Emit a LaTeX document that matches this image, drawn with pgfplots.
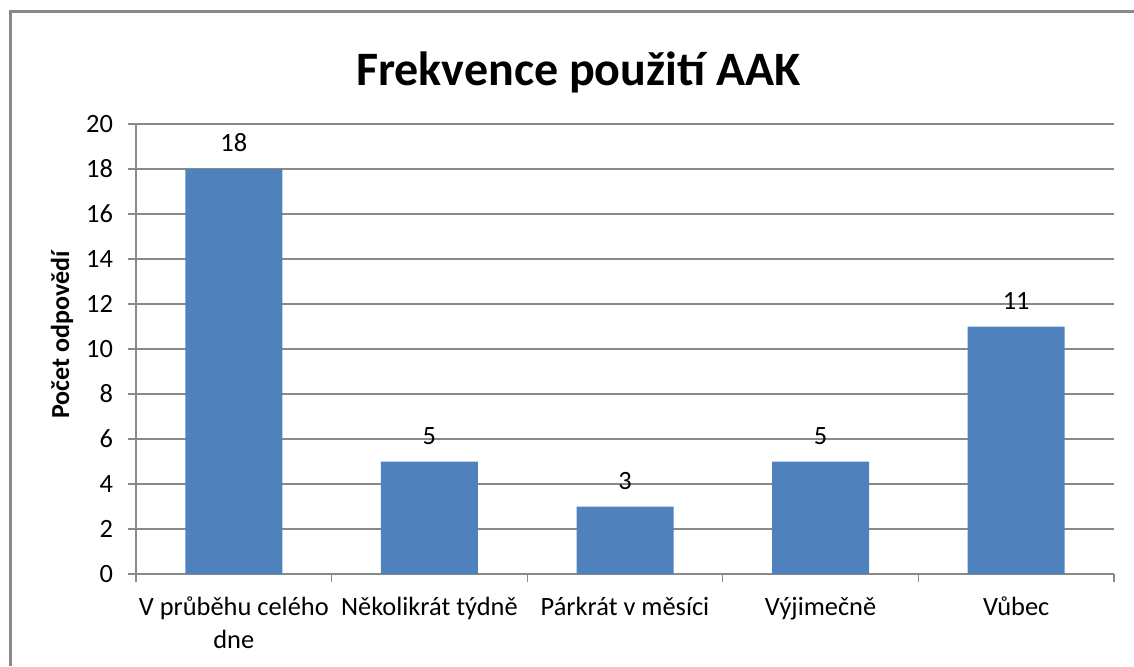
\documentclass[border=0pt]{standalone}
\usepackage{fontspec}
\setmainfont{Carlito}
\usepackage{pgfplots}
\pgfplotsset{compat=1.18}
\definecolor{barblue}{HTML}{4F81BD}
\definecolor{gridgray}{HTML}{898989}
\begin{document}
\begin{tikzpicture}[x=1pt,y=1pt]
\useasboundingbox (0,0) rectangle (567,333);
\draw[gridgray, line width=1.2pt] (5.25,0) -- (5.25,327.25) -- (567,327.25);
\begin{axis}[
  at={(68pt,46pt)}, anchor=south west,
  scale only axis, width=489pt, height=225pt,
  xmin=-0.5, xmax=4.5, ymin=0, ymax=20,
  ybar, bar width=48.5pt,
  axis x line*=bottom, axis y line*=left,
  axis line style={gridgray, line width=0.6pt, -},
  ytick={0,2,...,20},
  ymajorgrids, major grid style={gridgray, line width=0.6pt},
  xtick={-0.5,0.5,1.5,2.5,3.5,4.5},
  xticklabels={{V průběhu celého\\dne},{Několikrát týdně},{Párkrát v měsíci},{Výjimečně},{Vůbec},{}},
  xticklabel style={xshift=48.9pt, yshift=-4pt, align=center},
  yticklabel style={xshift=-4pt},
  tick align=outside, major tick length=4pt,
  tick style={gridgray, line width=0.6pt},
  ticklabel style={font=\fontsize{13.2}{16.5}\selectfont},
  /pgf/number format/assume math mode=true,
  nodes near coords,
  every node near coord/.append style={font=\fontsize{13.2}{15}\selectfont, black, yshift=5pt},
]
\addplot[fill=barblue, draw=none] coordinates {(0,18) (1,5) (2,3) (3,5) (4,11)};
\end{axis}
\node[font=\bfseries\fontsize{24}{28}\selectfont, anchor=base] at (289.25,290.5) {Frekvence použití AAK};
\node[font=\bfseries\fontsize{13}{15}\selectfont, rotate=90] at (31,165.5) {Počet odpovědí};
\end{tikzpicture}
\end{document}
